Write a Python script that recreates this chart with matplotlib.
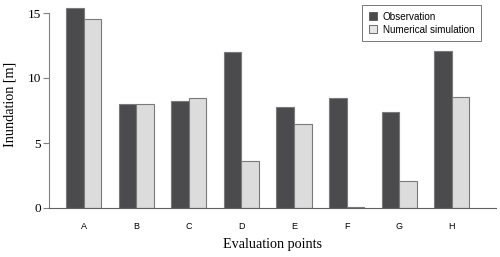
import matplotlib
matplotlib.use("Agg")
import matplotlib.pyplot as plt
import numpy as np
from matplotlib.patches import Patch

categories = ["A", "B", "C", "D", "E", "F", "G", "H"]
observation = [15.4, 8.0, 8.2, 12.0, 7.75, 8.45, 7.4, 12.1]
simulation = [14.55, 8.02, 8.45, 3.65, 6.45, 0.05, 2.05, 8.57]
yticks = [0, 5, 10, 15]

fig = plt.figure(figsize=(5.0, 2.57), dpi=100)
ax = fig.add_axes([49/500, 1 - 208/257, 447/500, 208/257])

unit = 17.54
x0 = 1 - 17/unit
x1 = 1 + 430/unit

idx = np.arange(len(categories))
left_obs = 3*idx + 1
left_sim = 3*idx + 2
edge = "#7a7a7a"
ax.bar(left_obs, observation, width=1, align="edge", color="#4b4b4d",
       edgecolor=edge, linewidth=0.8, zorder=2)
ax.bar(left_sim, simulation, width=1, align="edge", color="#dcdcdc",
       edgecolor=edge, linewidth=0.8, zorder=2)

ax.set_xlim(x0, x1)
ax.set_ylim(0, 16)
for s in ["top", "right"]:
    ax.spines[s].set_visible(False)
ax.spines["left"].set_bounds(0, 15)
ax.spines["left"].set_color("#808080")
ax.spines["bottom"].set_color("#606060")
ax.spines["left"].set_linewidth(0.8)
ax.spines["bottom"].set_linewidth(0.8)

ax.set_yticks(yticks)
ax.set_yticklabels([str(v) for v in yticks], family="Liberation Serif", fontsize=9.5)
ax.tick_params(axis="y", length=4, width=0.8, color="#808080", pad=2)
ax.set_xticks(left_obs + 1)
ax.set_xticklabels(categories, family="Liberation Sans", fontsize=6.5)
ax.tick_params(axis="x", length=0, pad=10)

ax.set_ylabel("Inundation [m]", family="Liberation Serif", fontsize=10.2, labelpad=8)
ax.set_xlabel("Evaluation points", family="Liberation Serif", fontsize=10.2, labelpad=5)

handles = [Patch(facecolor="#4b4b4d", edgecolor="#555555", linewidth=0.6),
           Patch(facecolor="#e6e6e6", edgecolor="#555555", linewidth=0.6)]
leg = ax.legend(handles, ["Observation", "Numerical simulation"],
                loc="upper right", bbox_to_anchor=((481 - 49)/447, 1 - 4.7/208),
                bbox_transform=ax.transAxes,
                prop={"family": "Liberation Sans", "size": 7.1},
                frameon=True, fancybox=False, edgecolor="#555555",
                handlelength=0.8, handleheight=0.8, handletextpad=0.6,
                borderpad=0.7, labelspacing=0.3, borderaxespad=0)
leg.get_frame().set_linewidth(0.7)

fig.savefig("out.png", dpi=100)
